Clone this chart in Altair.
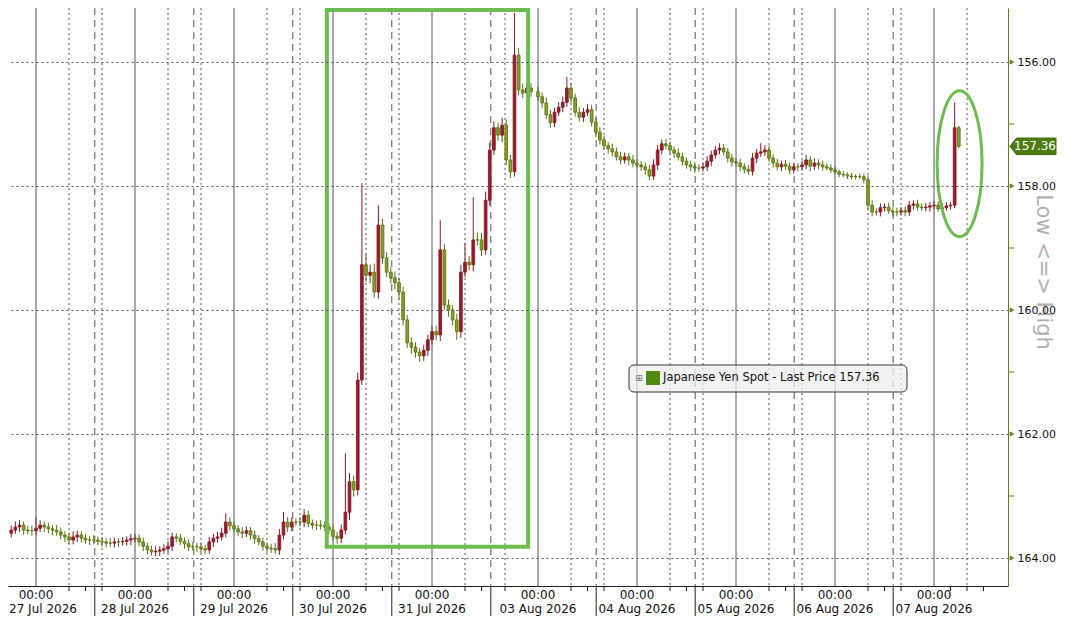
import altair as alt
import pandas as pd

# ---------------- data ----------------
# hourly candles, time axis in "trading hours" since 27 Jul 2026 00:00 (weekend compressed)
first_open = 163.60
week1_start_hour = -9
week1_close = [
    163.63, 163.63, 163.60, 163.55, 163.50, 163.47, 163.55, 163.56, 163.56, 163.52,
    163.47, 163.50, 163.53, 163.55, 163.58, 163.63, 163.66, 163.71, 163.66, 163.63,
    163.68, 163.71, 163.71, 163.71, 163.73, 163.74, 163.76, 163.76, 163.74, 163.74,
    163.73, 163.71, 163.69, 163.68, 163.74, 163.81, 163.87, 163.90, 163.89, 163.87,
    163.85, 163.81, 163.66, 163.68, 163.73, 163.77, 163.82, 163.82, 163.82, 163.85,
    163.87, 163.74, 163.68, 163.66, 163.60, 163.42, 163.48, 163.53, 163.58, 163.60,
    163.56, 163.63, 163.69, 163.74, 163.81, 163.84, 163.85, 163.87, 163.63, 163.42,
    163.50, 163.42, 163.42, 163.42, 163.31, 163.44, 163.47, 163.47, 163.48, 163.50,
    163.55, 163.65, 163.68, 163.55, 163.26, 162.77, 162.90, 161.13, 159.27, 159.44,
    159.39, 159.71, 158.63, 159.16, 159.39, 159.48, 159.56, 159.71, 160.16, 160.53,
    160.60, 160.68, 160.74, 160.65, 160.48, 160.35, 160.40, 159.03, 159.92, 160.00,
    160.16, 160.35, 159.39, 159.23, 159.27, 158.87, 158.87, 159.03, 158.23, 157.42,
    157.06, 157.18, 157.02, 157.58, 157.77, 155.89, 156.45, 156.50, 156.42, 156.48,
]
week1_wick_lo = [
    0.07, 0.06, 0.08, 0.07, 0.09, 0.08, 0.06, 0.07, 0.08, 0.18,
    0.08, 0.06, 0.07, 0.06, 0.08, 0.07, 0.06, 0.07, 0.09, 0.07,
    0.06, 0.07, 0.06, 0.08, 0.06, 0.07, 0.06, 0.08, 0.07, 0.06,
    0.07, 0.06, 0.08, 0.07, 0.06, 0.07, 0.06, 0.07, 0.08, 0.06,
    0.07, 0.08, 0.07, 0.06, 0.07, 0.06, 0.07, 0.08, 0.06, 0.07,
    0.06, 0.08, 0.07, 0.08, 0.09, 0.14, 0.08, 0.07, 0.06, 0.08,
    0.07, 0.06, 0.07, 0.06, 0.07, 0.06, 0.07, 0.09, 0.10, 0.16,
    0.08, 0.07, 0.06, 0.08, 0.10, 0.07, 0.06, 0.07, 0.08, 0.07,
    0.07, 0.08, 0.07, 0.09, 0.95, 0.14, 0.10, 0.12, 1.32, 0.17,
    0.12, 0.14, 0.32, 0.10, 0.09, 0.08, 0.10, 0.08, 0.09, 0.08,
    0.09, 0.08, 0.07, 0.09, 0.08, 0.09, 0.10, 0.48, 0.10, 0.09,
    0.08, 0.10, 0.12, 0.31, 0.10, 0.69, 0.12, 0.11, 0.14, 0.12,
    0.10, 0.08, 0.12, 0.09, 0.08, 0.68, 0.12, 0.10, 0.09, 0.08,
]
week1_wick_hi = [
    0.07, 0.08, 0.06, 0.07, 0.06, 0.08, 0.07, 0.06, 0.08, 0.07,
    0.06, 0.08, 0.07, 0.08, 0.06, 0.07, 0.08, 0.06, 0.07, 0.08,
    0.07, 0.06, 0.08, 0.07, 0.06, 0.08, 0.07, 0.06, 0.07, 0.08,
    0.06, 0.07, 0.08, 0.06, 0.07, 0.08, 0.07, 0.06, 0.07, 0.08,
    0.06, 0.07, 0.08, 0.07, 0.06, 0.08, 0.07, 0.06, 0.08, 0.07,
    0.07, 0.06, 0.08, 0.07, 0.06, 0.07, 0.08, 0.06, 0.07, 0.08,
    0.06, 0.07, 0.08, 0.06, 0.07, 0.08, 0.07, 0.06, 0.08, 0.07,
    0.08, 0.07, 0.06, 0.07, 0.08, 0.06, 0.07, 0.08, 0.06, 0.07,
    0.08, 0.07, 0.09, 0.08, 0.07, 0.13, 0.11, 0.09, 0.08, 0.11,
    0.13, 0.09, 0.11, 0.10, 0.08, 0.09, 0.11, 0.13, 0.09, 0.08,
    0.11, 0.09, 0.10, 0.08, 0.09, 0.08, 0.09, 0.10, 0.08, 0.11,
    0.09, 0.13, 0.10, 0.08, 0.09, 0.11, 0.09, 0.10, 0.08, 0.09,
    0.08, 0.09, 0.11, 0.08, 0.10, 0.08, 0.09, 0.08, 0.07, 0.08,
]
week2_start_hour = 121.7
week2_close = [
    156.56, 156.66, 156.85, 156.98, 156.81, 156.73, 156.65, 156.42, 156.58, 156.81,
    156.89, 156.81, 156.77, 156.97, 157.13, 157.26, 157.35, 157.40, 157.45, 157.53,
    157.58, 157.53, 157.58, 157.63, 157.66, 157.69, 157.74, 157.84, 157.66, 157.42,
    157.32, 157.35, 157.42, 157.47, 157.53, 157.60, 157.66, 157.69, 157.71, 157.71,
    157.69, 157.60, 157.50, 157.42, 157.39, 157.45, 157.55, 157.61, 157.63, 157.69,
    157.73, 157.76, 157.55, 157.47, 157.45, 157.42, 157.55, 157.63, 157.69, 157.65,
    157.68, 157.74, 157.69, 157.69, 157.66, 157.58, 157.68, 157.63, 157.66, 157.69,
    157.71, 157.74, 157.77, 157.81, 157.82, 157.84, 157.85, 157.85, 157.85, 157.90,
    158.31, 158.42, 158.42, 158.35, 158.34, 158.40, 158.42, 158.42, 158.40, 158.42,
    158.31, 158.29, 158.34, 158.35, 158.34, 158.32, 158.31, 158.37, 158.35, 158.32,
    158.31, 157.06, 157.36,
]
week2_wick_lo = [
    0.08, 0.07, 0.09, 0.08, 0.07, 0.08, 0.09, 0.18, 0.08, 0.07,
    0.08, 0.07, 0.09, 0.08, 0.07, 0.08, 0.07, 0.06, 0.08, 0.07,
    0.08, 0.07, 0.06, 0.08, 0.07, 0.06, 0.07, 0.08, 0.09, 0.08,
    0.07, 0.08, 0.07, 0.06, 0.08, 0.07, 0.06, 0.07, 0.08, 0.06,
    0.07, 0.08, 0.07, 0.06, 0.08, 0.07, 0.06, 0.07, 0.06, 0.07,
    0.06, 0.07, 0.08, 0.07, 0.14, 0.08, 0.07, 0.06, 0.07, 0.06,
    0.07, 0.06, 0.07, 0.06, 0.07, 0.08, 0.06, 0.07, 0.06, 0.07,
    0.05, 0.06, 0.05, 0.04, 0.05, 0.04, 0.05, 0.04, 0.05, 0.05,
    0.07, 0.08, 0.06, 0.07, 0.06, 0.07, 0.06, 0.07, 0.06, 0.07,
    0.07, 0.06, 0.07, 0.06, 0.07, 0.06, 0.07, 0.06, 0.07, 0.06,
    0.05, 0.41, 0.03,
]
week2_wick_hi = [
    0.07, 0.08, 0.07, 0.08, 0.07, 0.06, 0.08, 0.07, 0.08, 0.07,
    0.07, 0.08, 0.06, 0.07, 0.08, 0.07, 0.06, 0.08, 0.07, 0.06,
    0.07, 0.06, 0.08, 0.07, 0.06, 0.07, 0.08, 0.07, 0.06, 0.08,
    0.07, 0.06, 0.07, 0.08, 0.06, 0.07, 0.06, 0.07, 0.08, 0.06,
    0.06, 0.07, 0.08, 0.06, 0.07, 0.06, 0.07, 0.08, 0.06, 0.07,
    0.07, 0.06, 0.07, 0.08, 0.06, 0.07, 0.06, 0.07, 0.06, 0.07,
    0.06, 0.07, 0.06, 0.07, 0.06, 0.07, 0.08, 0.06, 0.07, 0.06,
    0.04, 0.05, 0.04, 0.05, 0.04, 0.05, 0.04, 0.05, 0.04, 0.06,
    0.08, 0.07, 0.06, 0.07, 0.06, 0.05, 0.06, 0.07, 0.06, 0.07,
    0.06, 0.07, 0.06, 0.05, 0.06, 0.07, 0.06, 0.05, 0.06, 0.05,
    0.06, 0.05, 0.03,
]

# time axis
midnight_hours = [0, 24, 48, 72, 96, 121.7, 145.7, 169.7, 193.7, 217.7]
midnight_time_labels = ["00:00"] * 10
midnight_date_labels = ["27 Jul 2026", "28 Jul 2026", "29 Jul 2026", "30 Jul 2026", "31 Jul 2026",
                        "03 Aug 2026", "04 Aug 2026", "05 Aug 2026", "06 Aug 2026", "07 Aug 2026"]
session_break_hours = [14.25, 38.25, 62.25, 86.25, 110.25, 135.8, 159.8, 183.8, 207.8]
dotted_grid_hours = [-8, 8, 16, 32, 40, 56, 64, 80, 88, 104, 113.7, 129.7, 137.7,
                     153.7, 161.7, 177.7, 185.7, 201.7, 209.7, 225.7]
minor_tick_hours = [8, 12, 16, 32, 36, 40, 56, 60, 64, 80, 84, 88, 104, 108, 113.7,
                    129.7, 133.7, 137.7, 153.7, 157.7, 161.7, 177.7, 181.7, 185.7,
                    201.7, 205.7, 209.7, 221.7, 225.7, 229.7]

# price axis
price_ticks = [156, 158, 160, 162, 164]
price_minor_ticks = [157, 159, 161, 163]
last_price = 157.36
axis_title = "Low <=> High"
legend_label = "Japanese Yen Spot - Last Price 157.36"

# annotations (in data units)
box_hours = [70.5, 119.3]
box_prices = [155.16, 163.82]
ellipse_hour = 223.9
ellipse_price = 157.64

# ---------------- layout / style ----------------
W, H = 1000, 578
PAD_R, PAD_B = 49, 30
T_MIN = -6.79
T_MAX = T_MIN + W / 4.125
P_TOP = 155.129
P_BOT = P_TOP + H / 62.0
FONT = "DejaVu Sans"
UP_FILL, UP_LINE = "#87a028", "#587610"
DN_FILL, DN_LINE = "#9a1c2c", "#8a1a26"
ANNOT = "#6cbd4e"
OLIVE = "#6b7d1a"
GRID = "#555555"

rows = []
prev = first_open
for start, closes, wlo, whi in [
    (week1_start_hour, week1_close, week1_wick_lo, week1_wick_hi),
    (week2_start_hour, week2_close, week2_wick_lo, week2_wick_hi),
]:
    for i, c in enumerate(closes):
        o = prev
        rows.append(dict(t=start + i, open=o, close=c,
                         low=min(o, c) - wlo[i], high=max(o, c) + whi[i],
                         dir="up" if c >= o else "down"))
        prev = c
candles = pd.DataFrame(rows)
candles = candles[candles.t >= T_MIN + 0.5]

xs = alt.Scale(domain=[T_MIN, T_MAX], nice=False, zero=False, padding=0)
ys = alt.Scale(domain=[P_TOP, P_BOT], reverse=True, nice=False, zero=False, padding=0)


def X(field):
    return alt.X(field, scale=xs)


def Y(field):
    return alt.Y(field, scale=ys)


def vlines(hours, dash, color=GRID):
    df = pd.DataFrame({"t": [h for h in hours if T_MIN < h < T_MAX]})
    kw = dict(color=color, strokeWidth=1)
    if dash:
        kw["strokeDash"] = dash
    return alt.Chart(df).mark_rule(**kw).encode(
        x=X("t:Q"), y=alt.value(0), y2=alt.value(H))


grid_dotted = vlines(dotted_grid_hours, [2, 3])
grid_dashed = vlines(session_break_hours, [7, 5])
grid_solid = vlines(midnight_hours, None)

dir_scale_line = alt.Scale(domain=["up", "down"], range=[UP_LINE, DN_LINE])
dir_scale_fill = alt.Scale(domain=["up", "down"], range=[UP_FILL, DN_FILL])

wicks = alt.Chart(candles).mark_rule(strokeWidth=1, clip=True).encode(
    x=alt.X("t:Q", scale=xs,
            axis=alt.Axis(labels=False, ticks=False, grid=False, domainColor="#222222",
                          domainWidth=1, title=None)),
    y=alt.Y("low:Q", scale=ys,
            axis=alt.Axis(orient="right", values=price_ticks, format=".2f", grid=True,
                          gridDash=[2, 3], gridColor=GRID, gridWidth=1, ticks=False,
                          domainColor=OLIVE, domainWidth=1, labelPadding=9,
                          labelFont=FONT, labelFontSize=11, labelColor="#111111",
                          title=None, zindex=1)),
    y2="high:Q",
    color=alt.Color("dir:N", scale=dir_scale_line, legend=None),
)
bodies = alt.Chart(candles).mark_bar(size=2.7, strokeWidth=0.9, clip=True).encode(
    x=X("t:Q"),
    y=Y("open:Q"),
    y2="close:Q",
    fill=alt.Fill("dir:N", scale=dir_scale_fill, legend=None),
    stroke=alt.Stroke("dir:N", scale=dir_scale_line, legend=None),
)

box_df = pd.DataFrame({"t0": [box_hours[0]], "t1": [box_hours[1]],
                       "p0": [box_prices[0]], "p1": [box_prices[1]]})
box = alt.Chart(box_df).mark_rect(fillOpacity=0, stroke=ANNOT, strokeWidth=4).encode(
    x=X("t0:Q"), x2="t1:Q", y=Y("p0:Q"), y2="p1:Q")

ELLIPSE = ("M0,-1 C0.17,-1 0.308,-0.552 0.308,0 C0.308,0.552 0.17,1 0,1 "
           "C-0.17,1 -0.308,0.552 -0.308,0 C-0.308,-0.552 -0.17,-1 0,-1 Z")
ell_df = pd.DataFrame({"t": [ellipse_hour], "p": [ellipse_price]})
ellipse = alt.Chart(ell_df).mark_point(shape=ELLIPSE, size=21316, filled=False,
                                       stroke=ANNOT, strokeWidth=3, opacity=1).encode(
    x=X("t:Q"), y=Y("p:Q"))

# legend box
leg_df = pd.DataFrame({"label": [legend_label]})
leg_box = alt.Chart(leg_df).mark_rect(fill="#eeeeee", fillOpacity=0.75, stroke="#333333",
                                      strokeWidth=1, cornerRadius=5).encode(
    x=alt.value(621), x2=alt.value(899), y=alt.value(357), y2=alt.value(384))
leg_sq = alt.Chart(leg_df).mark_rect(fill="#4f8a10").encode(
    x=alt.value(638), x2=alt.value(652), y=alt.value(363), y2=alt.value(377))
leg_icon = alt.Chart(leg_df).mark_text(text="⊞", font=FONT, fontSize=9, color="#777777",
                                       baseline="middle", align="center").encode(
    x=alt.value(631), y=alt.value(370))
leg_text = alt.Chart(leg_df).mark_text(font=FONT, fontSize=11.5, color="#111111",
                                       baseline="middle", align="left").encode(
    x=alt.value(655), y=alt.value(370), text="label:N")

# x axis labels and ticks
lab_df = pd.DataFrame({"t": midnight_hours, "time": midnight_time_labels,
                       "date": midnight_date_labels})
x_time = alt.Chart(lab_df).mark_text(font=FONT, fontSize=12, color="#111111",
                                     baseline="middle").encode(
    x=X("t:Q"), y=alt.value(H + 9), text="time:N")
x_date = alt.Chart(lab_df).transform_filter("datum.t > 10").mark_text(
    font=FONT, fontSize=12, color="#111111", baseline="middle").encode(
    x=X("t:Q"), y=alt.value(H + 23), text="date:N")
x_date_first = alt.Chart(lab_df).transform_filter("datum.t <= 10").mark_text(
    font=FONT, fontSize=12, color="#111111", baseline="middle", align="left", dx=-27).encode(
    x=X("t:Q"), y=alt.value(H + 23), text="date:N")
sep_df = pd.DataFrame({"t": session_break_hours})
sep_ticks = alt.Chart(sep_df).mark_rule(color="#222222", strokeWidth=1).encode(
    x=X("t:Q"), y=alt.value(H), y2=alt.value(H + PAD_B))
mt_df = pd.DataFrame({"t": minor_tick_hours})
minor_ticks = alt.Chart(mt_df).mark_rule(color="#222222", strokeWidth=1).encode(
    x=X("t:Q"), y=alt.value(H), y2=alt.value(H + 5))

# price axis decorations
pt_df = pd.DataFrame({"p": price_ticks})
tri = alt.Chart(pt_df).mark_point(shape="triangle-right", filled=True, size=28,
                                  color=OLIVE, opacity=1).encode(
    x=alt.value(W + 4), y=Y("p:Q"))
pm_df = pd.DataFrame({"p": price_minor_ticks})
pminor = alt.Chart(pm_df).mark_rule(color=OLIVE, strokeWidth=1).encode(
    x=alt.value(W), x2=alt.value(W + 6), y=Y("p:Q"))

TAG = "M-1,0 L-0.72,-0.36 L1,-0.36 L1,0.36 L-0.72,0.36 Z"
tag_df = pd.DataFrame({"p": [last_price], "label": [f"{last_price:.2f}"]})
tag = alt.Chart(tag_df).mark_point(shape=TAG, size=2116, filled=True, fill="#4d7c0f",
                                   stroke="#3d6a08", strokeWidth=1, opacity=1).encode(
    x=alt.value(W + 25), y=Y("p:Q"))
tag_text = alt.Chart(tag_df).mark_text(font=FONT, fontSize=12, color="white",
                                       align="center", baseline="middle").encode(
    x=alt.value(W + 27), y=Y("p:Q"), text="label:N")

title_df = pd.DataFrame({"label": [axis_title]})
title = alt.Chart(title_df).mark_text(font=FONT, fontSize=21, color="#b0b0b0", angle=90,
                                      align="center", baseline="middle").encode(
    x=alt.value(W + 35), y=alt.value(264), text="label:N")

chart = alt.layer(
    wicks,
    grid_dotted, grid_dashed, grid_solid,
    leg_box,
    bodies,
    box, ellipse,
    leg_sq, leg_icon, leg_text,
    x_time, x_date, x_date_first, sep_ticks, minor_ticks,
    title, tri, pminor, tag, tag_text,
).properties(
    width=W, height=H,
    autosize=alt.AutoSizeParams(type="none"),
    padding={"left": 0, "top": 0, "right": PAD_R, "bottom": PAD_B},
).configure_view(stroke=None)

chart.save("out.html", embed_options={"renderer": "svg", "actions": False})
